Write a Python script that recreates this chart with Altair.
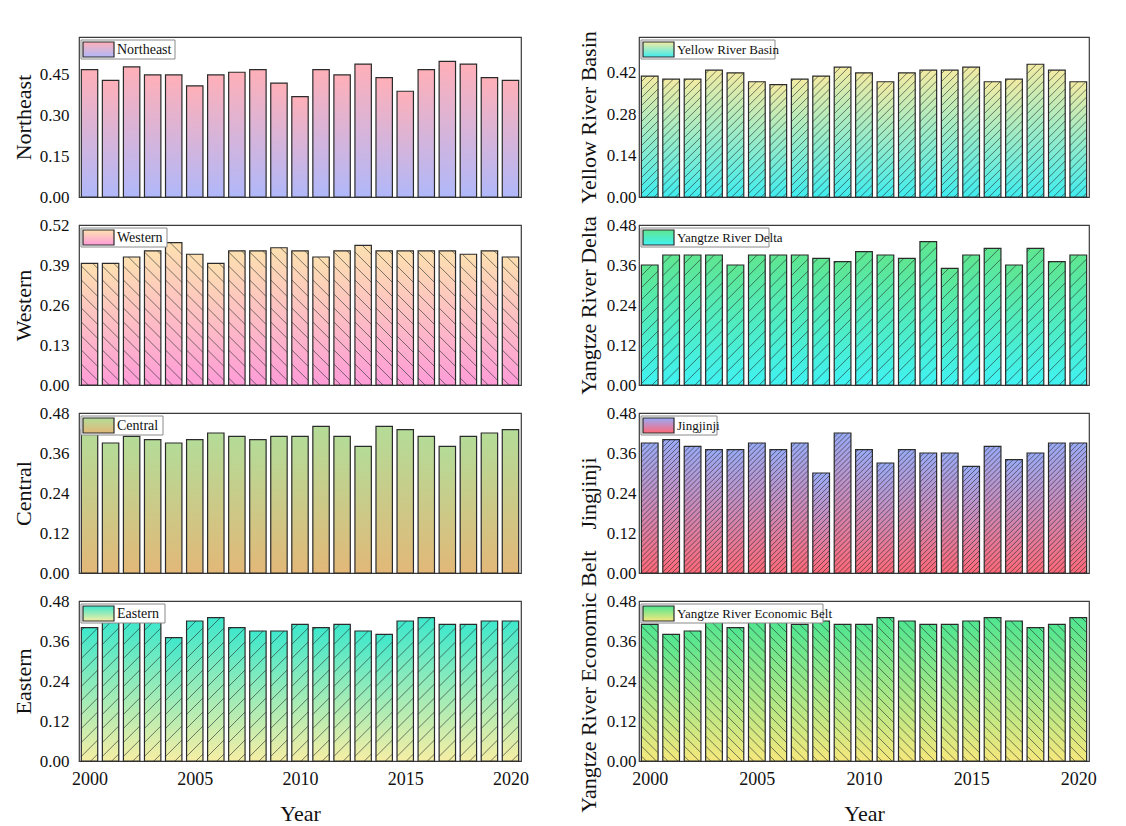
import altair as alt
import pandas as pd

years = list(range(2000, 2021))

northeast = [0.47, 0.43, 0.48, 0.45, 0.45, 0.41, 0.45, 0.46, 0.47, 0.42, 0.37,
             0.47, 0.45, 0.49, 0.44, 0.39, 0.47, 0.50, 0.49, 0.44, 0.43]
western = [0.395, 0.395, 0.416, 0.436, 0.463, 0.425, 0.395, 0.436, 0.436, 0.446, 0.436,
           0.416, 0.436, 0.454, 0.436, 0.436, 0.436, 0.436, 0.425, 0.436, 0.416]
central = [0.43, 0.39, 0.41, 0.40, 0.39, 0.40, 0.42, 0.41, 0.40, 0.41, 0.41,
           0.44, 0.41, 0.38, 0.44, 0.43, 0.41, 0.38, 0.41, 0.42, 0.43]
eastern = [0.40, 0.42, 0.42, 0.42, 0.37, 0.42, 0.43, 0.40, 0.39, 0.39, 0.41,
           0.40, 0.41, 0.39, 0.38, 0.42, 0.43, 0.41, 0.41, 0.42, 0.42]
yellow_river = [0.408, 0.398, 0.398, 0.428, 0.419, 0.389, 0.379, 0.398, 0.408, 0.438, 0.419,
                0.389, 0.419, 0.428, 0.428, 0.438, 0.389, 0.398, 0.448, 0.428, 0.389]
yangtze_delta = [0.36, 0.39, 0.39, 0.39, 0.36, 0.39, 0.39, 0.39, 0.38, 0.37, 0.40,
                 0.39, 0.38, 0.43, 0.35, 0.39, 0.41, 0.36, 0.41, 0.37, 0.39]
jingjinji = [0.39, 0.40, 0.38, 0.37, 0.37, 0.39, 0.37, 0.39, 0.30, 0.42, 0.37,
             0.33, 0.37, 0.36, 0.36, 0.32, 0.38, 0.34, 0.36, 0.39, 0.39]
yangtze_belt = [0.41, 0.38, 0.39, 0.43, 0.40, 0.42, 0.42, 0.41, 0.42, 0.41, 0.41,
                0.43, 0.42, 0.41, 0.41, 0.42, 0.43, 0.42, 0.40, 0.41, 0.43]

FONT = "Liberation Serif"
H = 160
W_LEFT = 442
W_RIGHT = 450
HALF = 0.39  # half bar width in years

# name, values, ymax, ticks, top colour, bottom colour, hatch spacing px (None = no hatch),
# hatch direction (+1 '/', -1 '\'), legend box width, legend font size
left_panels = [
    ("Northeast", northeast, 0.59, [0, 0.15, 0.30, 0.45], "#ffb0b8", "#b0b8fa", None, 1, 94, 14),
    ("Western", western, 0.52, [0, 0.13, 0.26, 0.39, 0.52], "#fde0b0", "#ff9cd8", 14, -1, 86, 14),
    ("Central", central, 0.48, [0, 0.12, 0.24, 0.36, 0.48], "#b4dc98", "#e2b878", None, 1, 82, 14),
    ("Eastern", eastern, 0.48, [0, 0.12, 0.24, 0.36, 0.48], "#3ee8cc", "#f6eea4", 14, 1, 84, 14),
]
right_panels = [
    ("Yellow River Basin", yellow_river, 0.54, [0, 0.14, 0.28, 0.42], "#f3eba2", "#40ecee", 8, 1, 134, 13),
    ("Yangtze River Delta", yangtze_delta, 0.48, [0, 0.12, 0.24, 0.36, 0.48], "#5fe690", "#40f2f2", 12, 1, 128, 13),
    ("Jingjinji", jingjinji, 0.48, [0, 0.12, 0.24, 0.36, 0.48], "#9aaaf6", "#ff6878", 5, 1, 76, 13),
    ("Yangtze River Economic Belt", yangtze_belt, 0.48, [0, 0.12, 0.24, 0.36, 0.48], "#4fe690", "#f6e87c", 10, -1, 182, 13),
]


def grad(top, bottom):
    return alt.Gradient(
        gradient="linear",
        stops=[alt.GradientStop(color=top, offset=0), alt.GradientStop(color=bottom, offset=1)],
        x1=0, x2=0, y1=0, y2=1,
    )


def panel(spec, width, bottom, right):
    name, vals, ymax, ticks, top, bot, sp, dirn, lw, lfs = spec
    df = pd.DataFrame({"year": years, "value": vals})
    xscale = alt.Scale(domain=[1999.5, 2020.5], nice=False, zero=False)
    yscale = alt.Scale(domain=[0, ymax], nice=False)
    if bottom:
        xaxis = alt.Axis(values=[2000, 2005, 2010, 2015, 2020], format="d", title="Year",
                         labelFont=FONT, labelFontSize=18, labelColor="#111", labelPadding=9,
                         titleFont=FONT, titleFontSize=22, titleFontWeight="normal",
                         titleColor="#111", titlePadding=15, ticks=False, grid=False,
                         domain=False, labelFlush=False)
    else:
        xaxis = None
    yaxis = alt.Axis(values=ticks, format=".2f", title=name, labelFont=FONT, labelFontSize=17,
                     labelColor="#111", labelPadding=3 if right else 10,
                     titleFont=FONT, titleFontSize=22, titleFontWeight="normal",
                     titleColor="#111", titlePadding=6 if right else 4,
                     ticks=False, grid=False, domain=False)

    base = alt.Chart(df).transform_calculate(
        x0=f"datum.year - {HALF}", x1=f"datum.year + {HALF}"
    )
    X = alt.X("x0:Q", scale=xscale, axis=xaxis)
    Y = alt.Y("value:Q", scale=yscale, axis=yaxis)

    bars = base.mark_bar(fill=grad(top, bot), strokeWidth=0).encode(
        x=X, x2="x1:Q", y=Y, y2=alt.datum(0))
    outline = base.mark_bar(fillOpacity=0, stroke="#2b2b2b", strokeWidth=1.2).encode(
        x=X, x2="x1:Q", y=Y, y2=alt.datum(0))
    layers = [bars]

    if sp is not None:
        pxx = width / 21.0
        pxy = H / ymax
        w = 2 * HALF * pxx
        hatch = (
            alt.Chart(df)
            .transform_calculate(ks="sequence(0, 120)")
            .transform_flatten(["ks"], as_=["k"])
            .transform_calculate(
                h=f"datum.value * {pxy}",
                c=f"-{w} + (datum.k + 0.5) * {sp}",
            )
            .transform_calculate(
                u0="max(0, -datum.c)",
                u1=f"min({w}, datum.h - datum.c)",
            )
            .transform_filter("datum.u1 > datum.u0 + 0.3")
            .transform_calculate(
                t0="datum.u0 + datum.c",
                t1="datum.u1 + datum.c",
                ua=(f"datum.u0" if dirn > 0 else f"{w} - datum.u0"),
                ub=(f"datum.u1" if dirn > 0 else f"{w} - datum.u1"),
            )
            .transform_calculate(
                xa=f"datum.year - {HALF} + datum.ua / {pxx}",
                xb=f"datum.year - {HALF} + datum.ub / {pxx}",
                ya=f"datum.t0 / {pxy}",
                yb=f"datum.t1 / {pxy}",
            )
            .mark_rule(color="#1e2a2a", strokeWidth=0.8, opacity=0.75)
            .encode(
                x=alt.X("xa:Q", scale=xscale, axis=xaxis),
                x2="xb:Q",
                y=alt.Y("ya:Q", scale=yscale, axis=yaxis),
                y2="yb:Q",
            )
        )
        layers.append(hatch)
    layers.append(outline)

    ldf = pd.DataFrame({"label": [name]})
    lbase = alt.Chart(ldf)
    box = lbase.mark_rect(fill="white", stroke="#8a8a8a", strokeWidth=1).encode(
        x=alt.value(2), x2=alt.value(2 + lw), y=alt.value(3), y2=alt.value(22))
    swatch = lbase.mark_rect(fill=grad(top, bot), stroke="#2b2b2b", strokeWidth=1.2).encode(
        x=alt.value(4), x2=alt.value(35), y=alt.value(5), y2=alt.value(20))
    text = lbase.mark_text(font=FONT, fontSize=lfs, align="left", baseline="middle",
                           color="#111").encode(
        x=alt.value(38), y=alt.value(13), text="label:N")
    layers += [box, swatch, text]

    return alt.layer(*layers).properties(width=width, height=H)


panels = []
for i in range(4):
    bottom = i == 3
    panels.append(panel(left_panels[i], W_LEFT, bottom, False))
    panels.append(panel(right_panels[i], W_RIGHT, bottom, True))

chart = (
    alt.concat(*panels, columns=2, spacing={"row": 28, "column": 118}, bounds="flush")
    .properties(padding={"left": 3, "top": 22, "right": 5, "bottom": 0}, background="white")
    .configure_view(stroke="#3a3a3a", strokeWidth=1.2)
)

chart.save("out.html", embed_options={"renderer": "svg", "actions": False})
